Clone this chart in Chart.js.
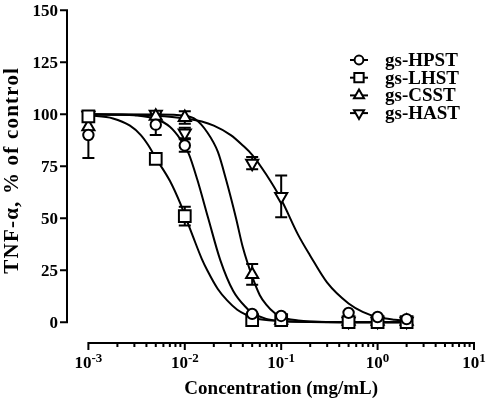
<!DOCTYPE html>
<html>
<head>
<meta charset="utf-8">
<script src="https://cdn.jsdelivr.net/npm/chart.js@4.4.0/dist/chart.umd.min.js"></script>
<style>
    html, body { margin: 0; padding: 0; background: #fff; }
    #wrap { width: 488px; height: 399px; position: relative; }
</style>
</head>
<body>
<div id="wrap"><canvas id="tnfChart"></canvas></div>
<script>
// ============================================================================
// TNF-alpha inhibition vs concentration (log x axis, Prism style axes)
// ============================================================================

// --- measured points (mean and SEM, % of control) ---
const concentrations = [0.001, 0.005, 0.01, 0.05, 0.1, 0.5, 1, 2];

const hpstMean = [90, 95, 85, 4, 3, 4.5, 2.5, 1.5];
const hpstSem  = [11, 5, 3, 0, 0, 0, 0, 0];

const lhstMean = [99, 78.5, 51, 1, 1, 0, 0, 0];
const lhstSem  = [0, 1.5, 4.5, 0, 0, 0, 0, 0];

const csstMean = [94, 99, 98.5, 23, 1, 0.5, 0.5, 0.5];
const csstSem  = [0, 0, 3, 5, 0, 0, 0, 0];

const hastMean = [99.5, 100, 91, 76.5, 60.5, 0.5, 0.5, 0.5];
const hastSem  = [0, 0, 2.5, 3, 10, 0, 0, 0];

// --- fitted curves ---
const hpstCurveX = [0.001, 0.002, 0.003, 0.005, 0.007, 0.009, 0.011, 0.0135, 0.0175, 0.0233, 0.0318, 0.0445, 0.05, 0.07, 0.1, 0.2, 0.5, 1, 2];
const hpstCurveY = [100, 99.8, 99.5, 97.7, 94, 88, 81, 68.5, 50, 30, 15, 6.5, 4.5, 1.6, 0.6, 0.1, 0, 0, 0];

const lhstCurveX = [0.001, 0.0018, 0.0027, 0.0035, 0.0042, 0.005, 0.007, 0.009, 0.01, 0.0122, 0.015, 0.0171, 0.022, 0.0275, 0.035, 0.0445, 0.05, 0.07, 0.1, 0.2, 0.5, 1, 2];
const lhstCurveY = [99.5, 98, 94.5, 90, 85, 79, 68, 57, 51.5, 41, 30.5, 25, 16, 10.5, 6, 3.3, 2.3, 1, 0.5, 0.2, 0, 0, 0];

const csstCurveX = [0.001, 0.005, 0.01, 0.013, 0.017, 0.022, 0.027, 0.034, 0.04, 0.05, 0.06, 0.07, 0.085, 0.1, 0.15, 0.2, 0.5, 1, 2];
const csstCurveY = [100, 99.9, 99.3, 97.5, 91.5, 82, 68, 50, 36, 22, 13, 8.5, 4.5, 2.5, 0.8, 0.3, 0, 0, 0];

const hastCurveX = [0.001, 0.003, 0.005, 0.01, 0.015, 0.02, 0.03, 0.04, 0.05, 0.07, 0.1, 0.15, 0.2, 0.3, 0.5, 0.7, 1, 1.5, 2];
const hastCurveY = [100, 99.7, 99.3, 98, 96.5, 94.5, 90, 85, 80.5, 71, 59, 42, 32, 19, 9, 5, 2.5, 1.2, 0.7];

// --- axes ---
const yTicks = [0, 25, 50, 75, 100, 125, 150];
const xDecadeExponents = [-3, -2, -1, 0, 1];

const seriesNames = ['gs-HPST', 'gs-LHST', 'gs-CSST', 'gs-HAST'];

const FONT = '"Liberation Serif", "Times New Roman", serif';

const markerStyles = [
    { pointStyle: 'circle',   rotation: 0,   radius: 5.2, legendRadius: 4.4 },
    { pointStyle: 'rect',     rotation: 0,   radius: 8.3, legendRadius: 6.6 },
    { pointStyle: 'triangle', rotation: 0,   radius: 7,   legendRadius: 5.8 },
    { pointStyle: 'triangle', rotation: 180, radius: 7,   legendRadius: 5.8 }
];

const means = [hpstMean, lhstMean, csstMean, hastMean];
const sems = [hpstSem, lhstSem, csstSem, hastSem];
const curvesX = [hpstCurveX, lhstCurveX, csstCurveX, hastCurveX];
const curvesY = [hpstCurveY, lhstCurveY, csstCurveY, hastCurveY];

function toPoints(xs, ys) {
    return xs.map((x, i) => ({ x: x, y: ys[i] }));
}

const datasets = [];

// markers on top (order 0)
seriesNames.forEach((name, s) => {
    datasets.push({
        label: name,
        data: toPoints(concentrations, means[s]),
        showLine: false,
        pointStyle: markerStyles[s].pointStyle,
        rotation: markerStyles[s].rotation,
        pointRadius: markerStyles[s].radius,
        pointBorderWidth: 2,
        pointBorderColor: '#000',
        pointBackgroundColor: '#fff',
        order: 0
    });
});

// fitted curves underneath (order 1)
seriesNames.forEach((name, s) => {
    datasets.push({
        label: name + ' fit',
        data: toPoints(curvesX[s], curvesY[s]),
        borderColor: '#000',
        borderWidth: 2,
        pointRadius: 0,
        fill: false,
        cubicInterpolationMode: 'monotone',
        order: 1
    });
});

// error bars, axes, titles and legend drawn through the chart scales
const prismPlugin = {
    id: 'prismAxes',
    beforeDatasetsDraw(chart) {
        const ctx = chart.ctx;
        const xs = chart.scales.x;
        const ys = chart.scales.y;
        ctx.save();
        ctx.strokeStyle = '#000';
        ctx.lineWidth = 2;
        const cap = 6;
        seriesNames.forEach((name, s) => {
            concentrations.forEach((c, i) => {
                const e = sems[s][i];
                if (!e) return;
                const px = xs.getPixelForValue(c);
                const top = ys.getPixelForValue(means[s][i] + e);
                const bot = ys.getPixelForValue(means[s][i] - e);
                ctx.beginPath();
                ctx.moveTo(px, top); ctx.lineTo(px, bot);
                ctx.moveTo(px - cap, top); ctx.lineTo(px + cap, top);
                ctx.moveTo(px - cap, bot); ctx.lineTo(px + cap, bot);
                ctx.stroke();
            });
        });
        ctx.restore();
    },
    afterDraw(chart) {
        const ctx = chart.ctx;
        const area = chart.chartArea;
        const xs = chart.scales.x;
        const ys = chart.scales.y;
        ctx.save();
        ctx.strokeStyle = '#000';
        ctx.fillStyle = '#000';
        ctx.lineWidth = 2;

        // y axis
        const x0 = area.left;
        ctx.beginPath();
        ctx.moveTo(x0, ys.getPixelForValue(yTicks[0]) + 1);
        ctx.lineTo(x0, ys.getPixelForValue(yTicks[yTicks.length - 1]) - 1);
        yTicks.forEach(t => {
            const py = ys.getPixelForValue(t);
            ctx.moveTo(x0 - 7, py); ctx.lineTo(x0, py);
        });
        ctx.stroke();
        ctx.font = 'bold 17px ' + FONT;
        ctx.textAlign = 'right';
        ctx.textBaseline = 'middle';
        yTicks.forEach(t => {
            ctx.fillText(String(t), x0 - 9, ys.getPixelForValue(t) + 1);
        });

        // x axis
        const y0 = area.bottom;
        const first = Math.pow(10, xDecadeExponents[0]);
        const last = Math.pow(10, xDecadeExponents[xDecadeExponents.length - 1]);
        ctx.beginPath();
        ctx.moveTo(xs.getPixelForValue(first) - 1, y0);
        ctx.lineTo(xs.getPixelForValue(last) + 1, y0);
        xDecadeExponents.forEach((p, k) => {
            const dec = Math.pow(10, p);
            const px = xs.getPixelForValue(dec);
            ctx.moveTo(px, y0); ctx.lineTo(px, y0 + 7);
            if (k < xDecadeExponents.length - 1) {
                for (let m = 2; m <= 9; m++) {
                    const mx = xs.getPixelForValue(m * dec);
                    ctx.moveTo(mx, y0); ctx.lineTo(mx, y0 + 4);
                }
            }
        });
        ctx.stroke();

        ctx.textAlign = 'left';
        ctx.textBaseline = 'alphabetic';
        xDecadeExponents.forEach(p => {
            const px = xs.getPixelForValue(Math.pow(10, p));
            ctx.font = 'bold 17px ' + FONT;
            const wBase = ctx.measureText('10').width;
            ctx.font = 'bold 13px ' + FONT;
            const exp = String(p);
            const wExp = ctx.measureText(exp).width;
            const start = px - (wBase + wExp) / 2;
            ctx.font = 'bold 17px ' + FONT;
            ctx.fillText('10', start, y0 + 25);
            ctx.font = 'bold 13px ' + FONT;
            ctx.fillText(exp, start + wBase, y0 + 19);
        });

        // axis titles
        ctx.font = 'bold 19px ' + FONT;
        ctx.textAlign = 'center';
        const xMid = (xs.getPixelForValue(first) + xs.getPixelForValue(last)) / 2;
        ctx.fillText('Concentration (mg/mL)', xMid, y0 + 51);

        ctx.save();
        ctx.translate(18, (ys.getPixelForValue(0) + ys.getPixelForValue(150)) / 2 + 4);
        ctx.rotate(-Math.PI / 2);
        ctx.font = 'bold 21px ' + FONT;
        ctx.letterSpacing = '1.2px';
        ctx.fillText('TNF-\u03b1, % of control', 0, 0);
        ctx.restore();

        // legend
        const lx = 359;
        seriesNames.forEach((name, s) => {
            const ly = 60 + s * 17.7;
            ctx.lineWidth = 2;
            ctx.beginPath();
            ctx.moveTo(lx - 9, ly); ctx.lineTo(lx + 9, ly);
            ctx.stroke();
            ctx.fillStyle = '#fff';
            Chart.helpers.drawPoint(ctx, {
                pointStyle: markerStyles[s].pointStyle,
                rotation: markerStyles[s].rotation,
                radius: markerStyles[s].legendRadius,
                borderWidth: 2
            }, lx, ly);
            ctx.fillStyle = '#000';
            ctx.font = 'bold 19px ' + FONT;
            ctx.textAlign = 'left';
            ctx.fillText(name, 385, ly + 6);
        });

        ctx.restore();
    }
};

const ctx = document.getElementById('tnfChart').getContext('2d');
new Chart(ctx, {
    type: 'line',
    data: { datasets: datasets },
    options: {
        responsive: true,
        maintainAspectRatio: false,
        animation: false,
        events: [],
        layout: {
            padding: { left: 67, right: 14, top: 8, bottom: 56 }
        },
        plugins: {
            legend: { display: false },
            tooltip: { enabled: false }
        },
        scales: {
            x: {
                type: 'logarithmic',
                min: 0.000606,
                max: 10,
                display: false
            },
            y: {
                type: 'linear',
                min: -10,
                max: 150,
                display: false
            }
        },
        elements: {
            line: { tension: 0 }
        }
    },
    plugins: [prismPlugin]
});
</script>
</body>
</html>
